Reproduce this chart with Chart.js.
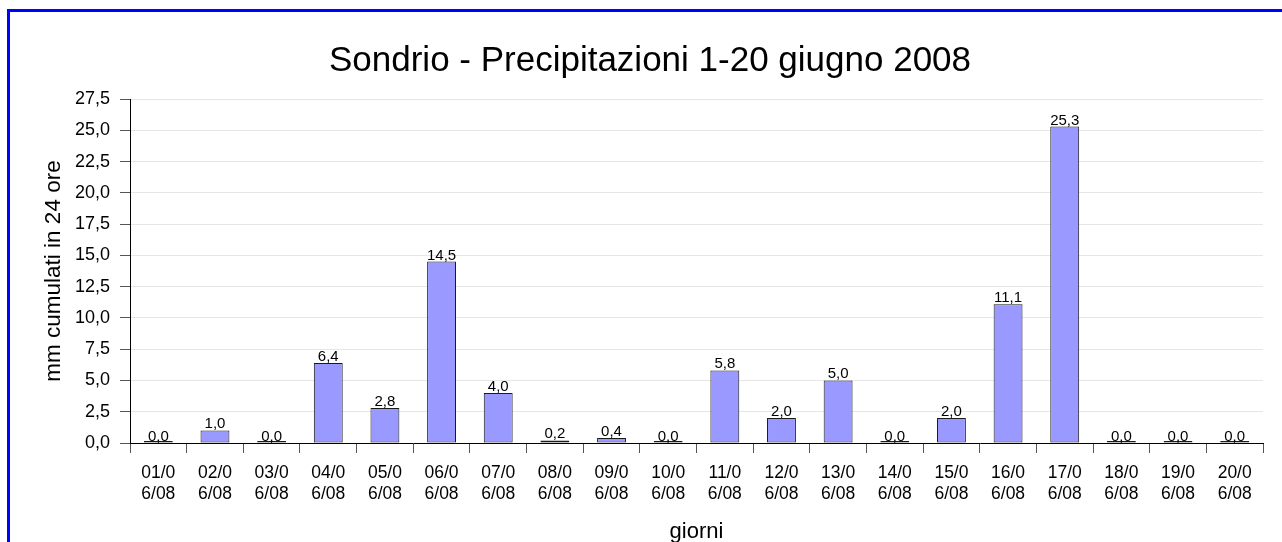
<!DOCTYPE html>
<html>
<head>
<meta charset="utf-8">
<script src="https://cdn.jsdelivr.net/npm/chart.js@4/dist/chart.umd.min.js"></script>
<style>
  html, body { margin: 0; padding: 0; background: #fff; overflow: hidden; }
  #wrap { position: relative; width: 1282px; height: 542px; }
  #frame { position: absolute; left: 7px; top: 9px; width: 2000px; height: 2000px; border: 3px solid #0000ff; box-sizing: border-box; pointer-events: none; }
  canvas { position: absolute; left: 0; top: 0; }
</style>
</head>
<body>
<div id="wrap">
  <div id="frame"></div>
  <canvas id="c" width="1282" height="542"></canvas>
</div>
<script>
const titleText = "Sondrio - Precipitazioni 1-20 giugno 2008";
const yAxisTitle = "mm cumulati in 24 ore";
const xAxisTitle = "giorni";
const categories = [
  ["01/0","6/08"],["02/0","6/08"],["03/0","6/08"],["04/0","6/08"],["05/0","6/08"],
  ["06/0","6/08"],["07/0","6/08"],["08/0","6/08"],["09/0","6/08"],["10/0","6/08"],
  ["11/0","6/08"],["12/0","6/08"],["13/0","6/08"],["14/0","6/08"],["15/0","6/08"],
  ["16/0","6/08"],["17/0","6/08"],["18/0","6/08"],["19/0","6/08"],["20/0","6/08"]
];
const rainfall = [0.0, 1.0, 0.0, 6.4, 2.8, 14.5, 4.0, 0.2, 0.4, 0.0, 5.8, 2.0, 5.0, 0.0, 2.0, 11.1, 25.3, 0.0, 0.0, 0.0];
const yMin = 0, yMax = 27.5, yStep = 2.5;

const fmt = v => v.toFixed(1).replace('.', ',');
const FONT = '"Liberation Sans", Arial, sans-serif';

const valueLabels = {
  id: 'valueLabels',
  afterDatasetsDraw(chart) {
    const ctx = chart.ctx;
    const meta = chart.getDatasetMeta(0);
    const ys = chart.scales.y;
    ctx.save();
    ctx.font = '15px ' + FONT;
    ctx.fillStyle = '#000';
    ctx.textAlign = 'center';
    ctx.textBaseline = 'alphabetic';
    meta.data.forEach((bar, i) => {
      const v = rainfall[i];
      const y = ys.getPixelForValue(v) - 2;
      ctx.fillText(fmt(v), bar.x, y);
    });
    ctx.restore();
  }
};

new Chart(document.getElementById('c'), {
  type: 'bar',
  data: {
    labels: categories,
    datasets: [{
      data: rainfall,
      backgroundColor: '#9999ff',
      borderColor: '#1a1a1a',
      borderWidth: 1,
      borderSkipped: false,
      minBarLength: 2,
      categoryPercentage: 1.0,
      barPercentage: 0.51
    }]
  },
  options: {
    responsive: false,
    animation: false,
    devicePixelRatio: 1,
    layout: { padding: { left: 37, right: 19, top: 0, bottom: 0 } },
    plugins: {
      legend: { display: false },
      tooltip: { enabled: false },
      title: {
        display: true,
        text: titleText,
        color: '#000',
        font: { family: FONT, size: 35, weight: 'normal', lineHeight: 1.2 },
        padding: { top: 40, bottom: 17 }
      }
    },
    scales: {
      x: {
        afterFit(s) { s.height = 99; },
        grid: { display: true, offset: true, drawOnChartArea: false, drawTicks: true, tickLength: 10, tickColor: '#555', color: '#555' },
        border: { display: true, color: '#000', width: 1 },
        ticks: { color: '#000', font: { family: FONT, size: 17.5, lineHeight: 1.22 }, padding: 9, maxRotation: 0, autoSkip: false },
        title: { display: true, text: xAxisTitle, color: '#000', font: { family: FONT, size: 22, lineHeight: 0.95 }, padding: { top: 0, bottom: 0 } }
      },
      y: {
        min: yMin, max: yMax,
        afterFit(s) { s.width = 93; },
        grid: { color: '#e6e6e6', tickColor: '#555', tickLength: 10, drawTicks: true },
        border: { display: true, color: '#000', width: 1 },
        ticks: { stepSize: yStep, color: '#000', font: { family: FONT, size: 18 }, padding: 10, callback: v => fmt(v) },
        title: { display: true, text: yAxisTitle, color: '#000', font: { family: FONT, size: 22.5, lineHeight: 1.2 }, padding: { top: 3, bottom: 0 } }
      }
    }
  },
  plugins: [valueLabels]
});
</script>
</body>
</html>
